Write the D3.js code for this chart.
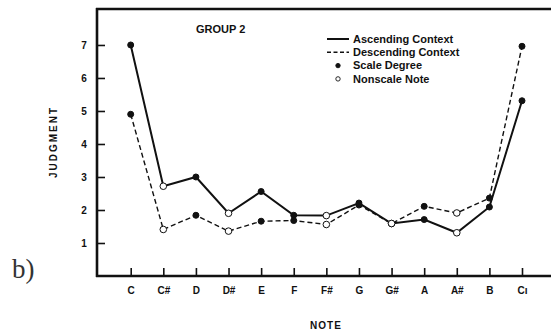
<!DOCTYPE html>
<meta charset="utf-8">
<style>
body { margin: 0; background: #fff; }
text { font-family: "Liberation Sans", Arial, sans-serif; font-weight: bold; fill: #111; }
.axis path { display: none; }
.axis line { stroke: #111; stroke-width: 1.6; }
</style>
<svg width="551" height="333"></svg>
<script src="https://d3js.org/d3.v7.min.js"></script>
<script>

  var notes = ["C", "C#", "D", "D#", "E", "F", "F#", "G", "G#", "A", "A#", "B", "C'"];
  var noteLabels = ["C", "C#", "D", "D#", "E", "F", "F#", "G", "G#", "A", "A#", "B", "C\u0131"];
  // true = scale degree (filled), false = nonscale note (open)
  var scaleDegree = [true, false, true, false, true, true, false, true, false, true, false, true, true];
  var ascending = [7.0, 2.72, 3.0, 1.90, 2.56, 1.84, 1.83, 2.21, 1.59, 1.71, 1.31, 2.09, 5.31];
  var descending = [4.90, 1.41, 1.84, 1.36, 1.66, 1.68, 1.56, 2.15, 1.59, 2.11, 1.91, 2.36, 6.96];
  var yTicks = [1, 2, 3, 4, 5, 6, 7];

  var svg = d3.select("svg"),
      margin = {top: 9, right: 0, bottom: 57, left: 97},
      width = svg.attr("width") - margin.left - margin.right,
      height = svg.attr("height") - margin.top - margin.bottom;

  // scales
  var x = d3.scalePoint()
    .domain(notes)
    .range([130.7 - margin.left, 522 - margin.left]);

  var y = d3.scaleLinear()
    .domain([0, 8.09])
    .range([height, 0]);

  var g = svg.append("g")
    .attr("transform", "translate(" + margin.left + "," + margin.top + ")");

  // frame: left, top, bottom (no right edge)
  g.append("line").attr("x1", 0).attr("x2", 0).attr("y1", -1).attr("y2", height + 1)
    .attr("stroke", "#111").attr("stroke-width", 2.6);
  g.append("line").attr("x1", -1).attr("x2", width).attr("y1", 0).attr("y2", 0)
    .attr("stroke", "#111").attr("stroke-width", 2.6);
  g.append("line").attr("x1", -1).attr("x2", width).attr("y1", height).attr("y2", height)
    .attr("stroke", "#111").attr("stroke-width", 2.6);

  // x axis, ticks pointing inward
  var xAxis = g.append("g")
    .attr("class", "axis axis--x")
    .attr("transform", "translate(0," + height + ")")
    .call(d3.axisTop(x).tickSize(8).tickFormat(function(d, i) { return noteLabels[i]; }));
  xAxis.selectAll("text")
    .attr("y", 11)
    .attr("dy", "0.71em")
    .style("font-size", "10px");

  // y axis, ticks pointing inward
  var yAxis = g.append("g")
    .attr("class", "axis axis--y")
    .call(d3.axisRight(y).tickValues(yTicks).tickSize(8));
  yAxis.selectAll("text")
    .attr("x", -13)
    .attr("text-anchor", "middle")
    .style("font-size", "10px");

  // axis titles
  svg.append("text")
    .attr("transform", "translate(57,142) rotate(-90)")
    .attr("text-anchor", "middle")
    .style("font-size", "10px")
    .style("letter-spacing", "2px")
    .text("JUDGMENT");

  svg.append("text")
    .attr("x", 326)
    .attr("y", 329)
    .attr("text-anchor", "middle")
    .style("font-size", "10px")
    .style("letter-spacing", "1px")
    .text("NOTE");

  svg.append("text")
    .attr("x", 196)
    .attr("y", 33)
    .style("font-size", "11px")
    .text("GROUP  2");

  svg.append("text")
    .attr("x", 12)
    .attr("y", 278)
    .style("font-family", "'Liberation Serif', 'DejaVu Serif', serif")
    .style("font-weight", "normal")
    .style("font-size", "27px")
    .style("fill", "#333")
    .text("b)");

  // lines
  var line = d3.line()
    .x(function(d, i) { return x(notes[i]); })
    .y(function(d) { return y(d); });

  g.append("path")
    .datum(ascending)
    .attr("fill", "none")
    .attr("stroke", "#111")
    .attr("stroke-width", 2)
    .attr("d", line);

  g.append("path")
    .datum(descending)
    .attr("fill", "none")
    .attr("stroke", "#111")
    .attr("stroke-width", 1.4)
    .attr("stroke-dasharray", "5,3")
    .attr("d", line);

  // markers
  [ascending, descending].forEach(function(series) {
    g.selectAll(null)
      .data(series)
      .enter().append("circle")
      .attr("cx", function(d, i) { return x(notes[i]); })
      .attr("cy", function(d) { return y(d); })
      .attr("r", function(d, i) { return scaleDegree[i] ? 3 : 3.3; })
      .attr("fill", function(d, i) { return scaleDegree[i] ? "#111" : "#fff"; })
      .attr("stroke", "#111")
      .attr("stroke-width", 1);
  });

  // legend
  var legend = svg.append("g").attr("transform", "translate(327,39)");
  var items = ["Ascending Context", "Descending Context", "Scale Degree", "Nonscale Note"];
  items.forEach(function(label, i) {
    var row = legend.append("g").attr("transform", "translate(0," + (i * 13.3) + ")");
    if (i === 0) {
      row.append("line").attr("x1", 0).attr("x2", 22).attr("stroke", "#111").attr("stroke-width", 2);
    } else if (i === 1) {
      row.append("line").attr("x1", 0).attr("x2", 22).attr("stroke", "#111")
        .attr("stroke-width", 1.4).attr("stroke-dasharray", "4,2.5");
    } else {
      row.append("circle").attr("cx", 11).attr("cy", 0).attr("r", 2.2)
        .attr("fill", i === 2 ? "#111" : "#fff").attr("stroke", "#111").attr("stroke-width", 0.9);
    }
    row.append("text")
      .attr("x", 26)
      .attr("y", 3.8)
      .style("font-size", "11px")
      .text(label);
  });
</script>
